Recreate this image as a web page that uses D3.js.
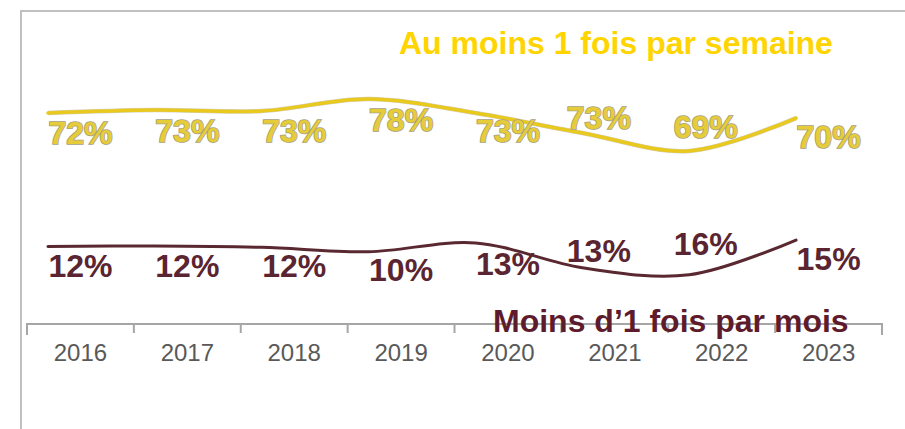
<!DOCTYPE html>
<html>
<head>
<meta charset="utf-8">
<script src="https://cdn.jsdelivr.net/npm/d3@7.9.0/dist/d3.min.js"></script>
<style>
  html, body { margin: 0; padding: 0; background: #fff; }
  svg { display: block; font-family: "Liberation Sans", Arial, sans-serif; }
</style>
</head>
<body>
<svg id="chart" width="905" height="429"></svg>
<script>
const years = ["2016", "2017", "2018", "2019", "2020", "2021", "2022", "2023"];

// printed labels
const weeklyLabels = [72, 73, 73, 78, 73, 73, 69, 70];
const monthlyLabels = [12, 12, 12, 10, 13, 13, 16, 15];

// heights (they don't follow the labels everywhere)
const weeklyCurve = [72, 73.3, 72.9, 78.3, 72, 63, 54.9, 69.7];
const monthlyCurve = [11.8, 12, 11.4, 9.4, 13.4, 2.2, -1, 14.7];

// years whose labels sit above the curve
const raised = ["2021", "2022"];

const weeklyName = "Au moins 1 fois par semaine";
const monthlyName = "Moins d\u20191 fois par mois";

const svg = d3.select("#chart");

// frame
svg.append("rect")
  .attr("x", 21).attr("y", 11)
  .attr("width", 1000).attr("height", 1000)
  .attr("fill", "none")
  .attr("stroke", "#c0c0c0")
  .attr("stroke-width", 2);

const x = d3.scaleBand().domain(years).range([27, 882]);
const y = d3.scaleLinear().domain([0, 100]).range([272.6, 50.9]);

const lineX = d => x(d) + x.bandwidth() * 0.196;
const line = d3.line()
  .x(d => lineX(d.year))
  .y(d => y(d.v))
  .curve(d3.curveCatmullRom.alpha(0.5));

// x axis
const axis = svg.append("g")
  .attr("transform", "translate(0,324)")
  .call(d3.axisBottom(x).tickSize(0).tickPadding(20));
axis.select(".domain").remove();
axis.selectAll("text")
  .attr("font-size", 24)
  .attr("fill", "#595959")
  .attr("font-family", "Liberation Sans, Arial, sans-serif");

const edges = years.map(d => x(d)).concat([x.range()[1]]);
svg.append("path")
  .attr("d", d3.line()([[27, 335], [27, 324], [882, 324], [882, 335]]))
  .attr("fill", "none")
  .attr("stroke", "#a6a6a6")
  .attr("stroke-width", 2);
svg.selectAll("line.tick")
  .data(edges.slice(1, -1))
  .join("line")
  .attr("class", "tick")
  .attr("x1", d => d).attr("x2", d => d)
  .attr("y1", 324).attr("y2", 333)
  .attr("stroke", "#a6a6a6")
  .attr("stroke-width", 2);

function drawSeries(curve, labels, lineColor, lineWidth, labelFill, labelStroke) {
  const pts = years.map((year, i) => ({ year, v: curve[i] }));
  if (labelStroke) {
    svg.append("path")
      .attr("d", line(pts))
      .attr("fill", "none")
      .attr("stroke", labelStroke)
      .attr("stroke-width", lineWidth + 1)
      .attr("stroke-opacity", 0.5);
  }
  svg.append("path")
    .attr("d", line(pts))
    .attr("fill", "none")
    .attr("stroke", lineColor)
    .attr("stroke-width", lineWidth)
    .attr("stroke-linecap", "round");

  svg.append("g").selectAll("text")
    .data(years.map((year, i) => ({ year, v: labels[i] })))
    .join("text")
    .attr("x", d => x(d.year) + x.bandwidth() / 2 - (raised.includes(d.year) ? 16 : 0))
    .attr("y", d => y(d.v) + (raised.includes(d.year) ? 18 : 31))
    .attr("text-anchor", "middle")
    .attr("font-size", 32)
    .attr("font-weight", "bold")
    .attr("fill", labelFill)
    .attr("stroke", labelStroke || "none")
    .attr("stroke-width", labelStroke ? 1.6 : 0)
    .attr("paint-order", "stroke")
    .text(d => d.v + "%");
}

drawSeries(weeklyCurve, weeklyLabels, "#e9c91e", 3.5, "#e6cc38", "#a5a080");
drawSeries(monthlyCurve, monthlyLabels, "#5a2831", 3, "#5a2530", null);

// series names
svg.append("text")
  .attr("x", 399).attr("y", 54)
  .attr("font-size", 32)
  .attr("font-weight", "bold")
  .attr("fill", "#ffd400")
  .text(weeklyName);

svg.append("text")
  .attr("x", 493).attr("y", 332)
  .attr("font-size", 32)
  .attr("font-weight", "bold")
  .attr("fill", "#5e1b2c")
  .text(monthlyName);
</script>
</body>
</html>
